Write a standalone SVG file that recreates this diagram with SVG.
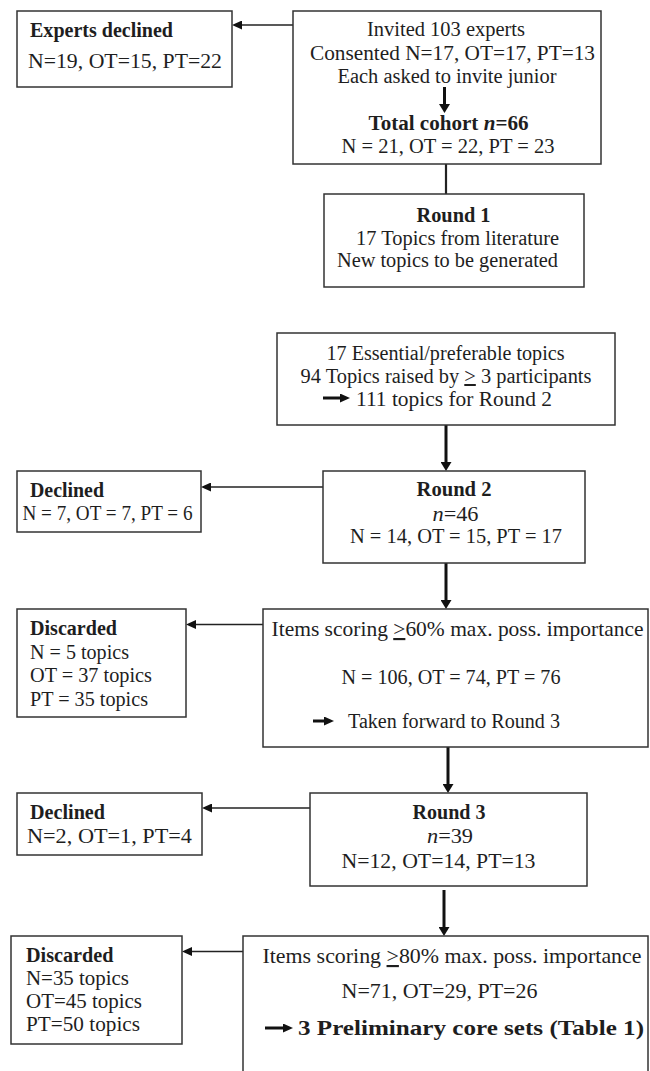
<svg xmlns="http://www.w3.org/2000/svg" width="650" height="1071" viewBox="0 0 650 1071">
<style>
text{font-family:"Liberation Serif","Times New Roman",serif;font-size:20px;fill:#1e1e1e}
.b{font-weight:bold}
.i{font-style:italic}
.big{font-size:21.5px}
.box{fill:#fff;stroke:#333;stroke-width:1.5}
.thin{stroke:#222;stroke-width:1.3;fill:none}
.thick{stroke:#111;stroke-width:3;fill:none}
.u{text-decoration:underline}
</style>
<defs>
<marker id="ah" markerUnits="userSpaceOnUse" markerWidth="10" markerHeight="9" refX="0" refY="4.5" orient="auto"><path d="M0,0 L10,4.5 L0,9 z" fill="#111"/></marker>
<marker id="ahT" markerUnits="userSpaceOnUse" markerWidth="9" markerHeight="11" refX="0" refY="5.5" orient="auto"><path d="M0,0 L9,5.5 L0,11 z" fill="#111"/></marker>
</defs>
<rect width="650" height="1071" fill="#fff"/>
<g id="connectors">
<line class="thin" x1="293" y1="25" x2="242" y2="25" marker-end="url(#ah)"/>
<line x1="446" y1="164" x2="446" y2="194" stroke="#222" stroke-width="2.2"/>
<line class="thick" x1="446" y1="425" x2="446" y2="462" marker-end="url(#ahT)"/>
<line class="thin" x1="323" y1="487" x2="211" y2="487" marker-end="url(#ah)"/>
<line class="thick" x1="446" y1="563" x2="446" y2="600" marker-end="url(#ahT)"/>
<line class="thin" x1="263" y1="624.5" x2="196" y2="624.5" marker-end="url(#ah)"/>
<line class="thick" x1="448" y1="747" x2="448" y2="784" marker-end="url(#ahT)"/>
<line class="thin" x1="310" y1="808" x2="212" y2="808" marker-end="url(#ah)"/>
<line class="thick" x1="444" y1="890" x2="444" y2="927" marker-end="url(#ahT)"/>
<line class="thin" x1="243" y1="951.5" x2="192" y2="951.5" marker-end="url(#ah)"/>
</g>
<g id="experts-declined">
<rect class="box" x="17" y="11" width="215" height="76"/>
<text class="b" x="30" y="37" textLength="143" lengthAdjust="spacingAndGlyphs">Experts declined</text>
<text x="28" y="68" textLength="194" lengthAdjust="spacingAndGlyphs">N=19, OT=15, PT=22</text>
</g>
<g id="invited">
<rect class="box" x="293" y="11" width="308" height="153"/>
<text x="367" y="36" textLength="158" lengthAdjust="spacingAndGlyphs">Invited 103 experts</text>
<text x="310" y="60" textLength="285" lengthAdjust="spacingAndGlyphs">Consented N=17, OT=17, PT=13</text>
<text x="337.5" y="83" textLength="219" lengthAdjust="spacingAndGlyphs">Each asked to invite junior</text>
<line class="thick" x1="444.5" y1="87" x2="444.5" y2="104" marker-end="url(#ahT)"/>
<text class="b" x="368.5" y="129.5" textLength="160" lengthAdjust="spacingAndGlyphs">Total cohort <tspan class="i">n</tspan>=66</text>
<text x="341.5" y="153" textLength="213" lengthAdjust="spacingAndGlyphs">N = 21, OT = 22, PT = 23</text>
</g>
<g id="round1">
<rect class="box" x="324" y="194" width="260" height="93"/>
<text class="b" x="416.5" y="222" textLength="74" lengthAdjust="spacingAndGlyphs">Round 1</text>
<text x="356" y="245" textLength="203" lengthAdjust="spacingAndGlyphs">17 Topics from literature</text>
<text x="337" y="267" textLength="221" lengthAdjust="spacingAndGlyphs">New topics to be generated</text>
</g>
<g id="topics">
<rect class="box" x="277" y="333" width="338" height="92"/>
<text x="326.5" y="359.5" textLength="238" lengthAdjust="spacingAndGlyphs">17 Essential/preferable topics</text>
<text x="300.5" y="383" textLength="291" lengthAdjust="spacingAndGlyphs">94 Topics raised by <tspan class="u">&gt;</tspan> 3 participants</text>
<line class="thick" x1="323" y1="398" x2="340" y2="398" stroke-width="2.5" marker-end="url(#ah)"/>
<text x="356" y="406" textLength="196" lengthAdjust="spacingAndGlyphs">111 topics for Round 2</text>
</g>
<g id="declined2">
<rect class="box" x="17" y="471" width="184" height="61"/>
<text class="b" x="30" y="497" textLength="74" lengthAdjust="spacingAndGlyphs">Declined</text>
<text x="22.5" y="520" textLength="170" lengthAdjust="spacingAndGlyphs">N = 7, OT = 7, PT = 6</text>
</g>
<g id="round2">
<rect class="box" x="323" y="471" width="262" height="92"/>
<text class="b" x="416.5" y="496" textLength="75" lengthAdjust="spacingAndGlyphs">Round 2</text>
<text x="432.5" y="521" textLength="46" lengthAdjust="spacingAndGlyphs"><tspan class="i">n</tspan>=46</text>
<text x="350" y="543" textLength="212" lengthAdjust="spacingAndGlyphs">N = 14, OT = 15, PT = 17</text>
</g>
<g id="discarded2">
<rect class="box" x="17" y="609" width="169" height="108"/>
<text class="b" x="30" y="635" textLength="87" lengthAdjust="spacingAndGlyphs">Discarded</text>
<text x="30" y="659" textLength="99" lengthAdjust="spacingAndGlyphs">N = 5 topics</text>
<text x="30" y="682" textLength="122" lengthAdjust="spacingAndGlyphs">OT = 37 topics</text>
<text x="30" y="706" textLength="118" lengthAdjust="spacingAndGlyphs">PT = 35 topics</text>
</g>
<g id="items60">
<rect class="box" x="263" y="609" width="385" height="138"/>
<text class="big" x="271.5" y="636" textLength="372" lengthAdjust="spacingAndGlyphs">Items scoring <tspan class="u">&gt;</tspan>60% max. poss. importance</text>
<text x="341.5" y="684" textLength="219" lengthAdjust="spacingAndGlyphs">N = 106, OT = 74, PT = 76</text>
<line class="thick" x1="313" y1="721" x2="324" y2="721" stroke-width="2.5" marker-end="url(#ah)"/>
<text x="348" y="728" textLength="212" lengthAdjust="spacingAndGlyphs">Taken forward to Round 3</text>
</g>
<g id="declined3">
<rect class="box" x="17" y="793" width="185" height="62"/>
<text class="b" x="30" y="819" textLength="75" lengthAdjust="spacingAndGlyphs">Declined</text>
<text x="27" y="843" textLength="165" lengthAdjust="spacingAndGlyphs">N=2, OT=1, PT=4</text>
</g>
<g id="round3">
<rect class="box" x="310" y="793" width="277" height="93"/>
<text class="b" x="412.5" y="819" textLength="73" lengthAdjust="spacingAndGlyphs">Round 3</text>
<text x="427" y="843" textLength="46" lengthAdjust="spacingAndGlyphs"><tspan class="i">n</tspan>=39</text>
<text x="341.5" y="868" textLength="194" lengthAdjust="spacingAndGlyphs">N=12, OT=14, PT=13</text>
</g>
<g id="discarded3">
<rect class="box" x="11" y="936" width="171" height="108"/>
<text class="b" x="26" y="962" textLength="87.5" lengthAdjust="spacingAndGlyphs">Discarded</text>
<text x="26" y="985" textLength="103" lengthAdjust="spacingAndGlyphs">N=35 topics</text>
<text x="26" y="1008" textLength="116" lengthAdjust="spacingAndGlyphs">OT=45 topics</text>
<text x="26" y="1031" textLength="114" lengthAdjust="spacingAndGlyphs">PT=50 topics</text>
</g>
<g id="items80">
<rect class="box" x="243" y="936" width="405" height="150"/>
<text class="big" x="262.5" y="963" textLength="379" lengthAdjust="spacingAndGlyphs">Items scoring <tspan class="u">&gt;</tspan>80% max. poss. importance</text>
<text x="341.5" y="998" textLength="196" lengthAdjust="spacingAndGlyphs">N=71, OT=29, PT=26</text>
<line class="thick" x1="265" y1="1028" x2="283" y2="1028" stroke-width="2.5" marker-end="url(#ah)"/>
<text class="b" x="298" y="1035" font-size="22" textLength="346" lengthAdjust="spacingAndGlyphs">3 Preliminary core sets (Table 1)</text>
</g>
</svg>
